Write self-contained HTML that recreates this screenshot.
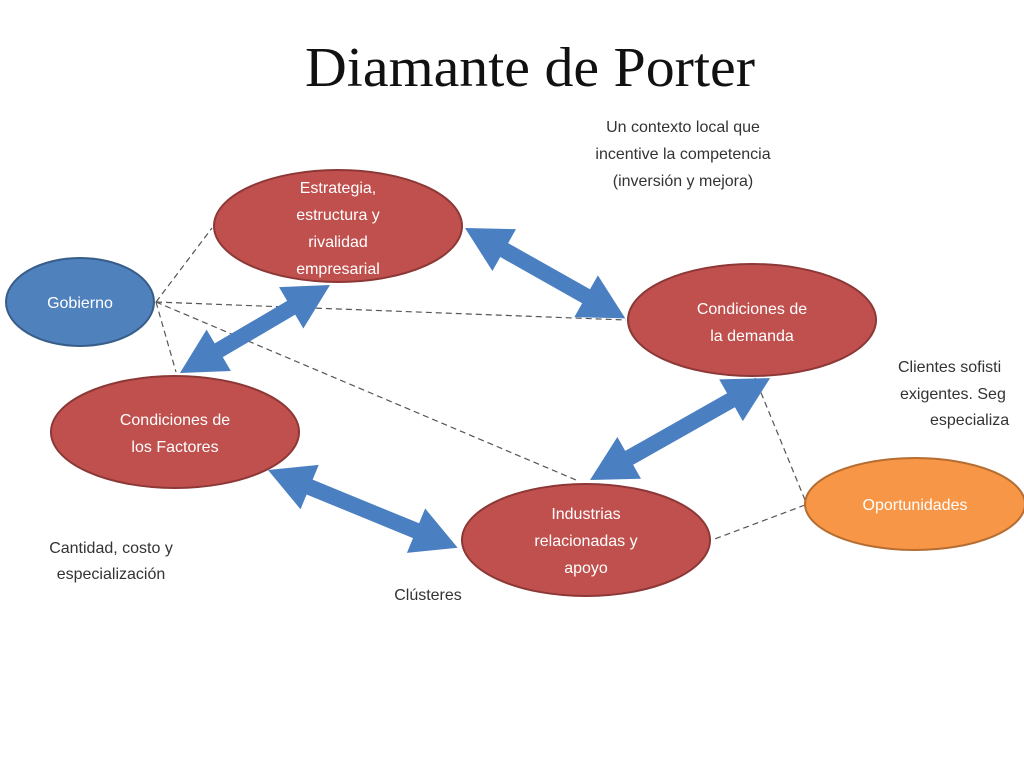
<!DOCTYPE html>
<html><head><meta charset="utf-8"><style>
html,body{margin:0;padding:0;background:#fff;width:1024px;height:768px;overflow:hidden}
</style></head><body>
<svg width="1024" height="768" viewBox="0 0 1024 768" xmlns="http://www.w3.org/2000/svg">
<rect width="1024" height="768" fill="#fff"/>
<text x="530" y="86" text-anchor="middle" font-family="Liberation Serif, serif" font-size="56" fill="#111" textLength="450" lengthAdjust="spacingAndGlyphs">Diamante de Porter</text>
<g font-family="Liberation Sans, sans-serif" font-size="16" fill="#333" text-anchor="middle">
<text x="683" y="132">Un contexto local que</text>
<text x="683" y="159">incentive la competencia</text>
<text x="683" y="186">(inversión y mejora)</text>
<text x="111" y="553">Cantidad, costo y</text>
<text x="111" y="579">especialización</text>
<text x="428" y="600">Clústeres</text>
<text x="898" y="372" text-anchor="start">Clientes sofisti</text>
<text x="900" y="399" text-anchor="start">exigentes. Seg</text>
<text x="930" y="425" text-anchor="start">especializa</text>
</g>
<g stroke="#555" stroke-width="1.2" stroke-dasharray="6,4" fill="none">
<line x1="156" y1="302" x2="212" y2="228"/>
<line x1="156" y1="302" x2="626" y2="320"/>
<line x1="156" y1="302" x2="176" y2="372"/>
<line x1="156" y1="302" x2="576" y2="480"/>
<line x1="805" y1="505" x2="712" y2="540"/>
<line x1="805" y1="500" x2="755" y2="378"/>
</g>
<g fill="#4a7fc1">
<polygon transform="translate(330,285) rotate(149.6)" points="0,0 45,-24 45,-8 129,-8 129,-24 174,0 129,24 129,8 45,8 45,24"/>
<polygon transform="translate(465,228) rotate(29.4)" points="0,0 45,-24 45,-8 139,-8 139,-24 184,0 139,24 139,8 45,8 45,24"/>
<polygon transform="translate(268,470) rotate(22.3)" points="0,0 45,-24 45,-8 160,-8 160,-24 205,0 160,24 160,8 45,8 45,24"/>
<polygon transform="translate(590,480) rotate(-29.5)" points="0,0 45,-24 45,-8 162,-8 162,-24 207,0 162,24 162,8 45,8 45,24"/>
</g>
<g stroke-width="2">
<ellipse cx="338" cy="226" rx="124" ry="56" fill="#c0504d" stroke="#8c3836"/>
<ellipse cx="80" cy="302" rx="74" ry="44" fill="#4f81bd" stroke="#385d8a"/>
<ellipse cx="175" cy="432" rx="124" ry="56" fill="#c0504d" stroke="#8c3836"/>
<ellipse cx="752" cy="320" rx="124" ry="56" fill="#c0504d" stroke="#8c3836"/>
<ellipse cx="586" cy="540" rx="124" ry="56" fill="#c0504d" stroke="#8c3836"/>
<ellipse cx="915" cy="504" rx="110" ry="46" fill="#f79646" stroke="#b66d31"/>
</g>
<g font-family="Liberation Sans, sans-serif" font-size="16" fill="#fff" text-anchor="middle">
<text x="338" y="193">Estrategia,</text>
<text x="338" y="220">estructura y</text>
<text x="338" y="247">rivalidad</text>
<text x="338" y="274">empresarial</text>
<text x="80" y="308">Gobierno</text>
<text x="175" y="425">Condiciones de</text>
<text x="175" y="452">los Factores</text>
<text x="752" y="314">Condiciones de</text>
<text x="752" y="341">la demanda</text>
<text x="586" y="519">Industrias</text>
<text x="586" y="546">relacionadas y</text>
<text x="586" y="573">apoyo</text>
<text x="915" y="510">Oportunidades</text>
</g>
</svg>
</body></html>
